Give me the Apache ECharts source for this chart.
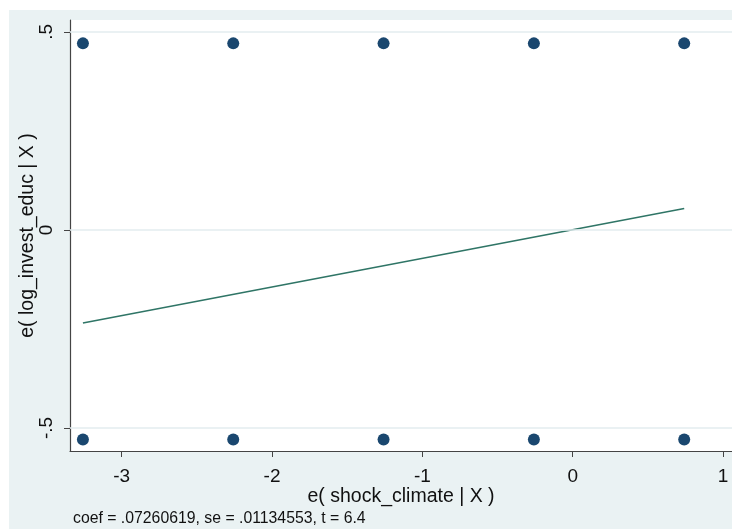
<!DOCTYPE html>
<html><head><meta charset="utf-8">
<script src="https://cdn.jsdelivr.net/npm/echarts@6/dist/echarts.min.js"></script>
<style>html,body{margin:0;padding:0;background:#fff}#c{width:732px;height:529px}</style>
</head><body><div id="c"></div>
<script>
// Data
var pointX = [-3.258, -2.258, -1.258, -0.258, 0.742];
var upperY = [0.471, 0.471, 0.471, 0.471, 0.471];
var lowerY = [-0.529, -0.529, -0.529, -0.529, -0.529];
var fitX = [-3.258, 0.742];
var fitY = [-0.235, 0.054];
var xTicks = [-3, -2, -1, 0, 1];
var xTickLabels = ['-3', '-2', '-1', '0', '1'];
var yTicks = [-0.5, 0, 0.5];
var yTickLabels = ['-.5', '0', '.5'];
var xTitle = 'e( shock_climate | X )';
var yTitle = 'e( log_invest_educ | X )';
var note = 'coef = .07260619, se = .01134553, t = 6.4';

var pts = [];
for (var i = 0; i < pointX.length; i++) { pts.push([pointX[i], upperY[i]]); pts.push([pointX[i], lowerY[i]]); }
var fit = fitX.map(function (x, i) { return [x, fitY[i]]; });

var FONT = 'Liberation Sans, Arial, sans-serif';
var chart = echarts.init(document.getElementById('c'), null, {renderer: 'canvas'});
chart.setOption({
  animation: false,
  backgroundColor: '#ffffff',
  graphic: [
    {type: 'rect', z: -10, shape: {x: 9, y: 10, width: 723, height: 519}, style: {fill: '#eaf2f3'}},
    {type: 'text', left: 73, top: 511, style: {text: note, font: '15.8px ' + FONT, fill: '#111'}}
  ],
  grid: {left: 70, top: 20, right: 0, bottom: 78, show: true, backgroundColor: '#ffffff', borderWidth: 0},
  xAxis: {
    type: 'value', min: -3.344, max: 1.06,
    name: xTitle, nameLocation: 'middle', nameGap: 36, nameMoveOverlap: false,
    nameTextStyle: {fontFamily: FONT, fontSize: 19.5, color: '#111'},
    axisLine: {show: true, onZero: false, lineStyle: {color: '#444', width: 1.2}},
    axisTick: {show: true, length: 6, customValues: xTicks, lineStyle: {color: '#444'}},
    axisLabel: {customValues: xTicks, margin: 16, fontFamily: FONT, fontSize: 19, color: '#111',
      formatter: function (v) { var k = xTicks.indexOf(v); return k >= 0 ? xTickLabels[k] : ''; }},
    splitLine: {show: false}
  },
  yAxis: {
    type: 'value', min: -0.558, max: 0.530,
    name: yTitle, nameLocation: 'middle', nameGap: 32, nameRotate: 90, nameMoveOverlap: false,
    nameTextStyle: {fontFamily: FONT, fontSize: 19.5, color: '#111'},
    axisLine: {show: true, onZero: false, lineStyle: {color: '#444', width: 1.2}},
    axisTick: {show: true, length: 6, customValues: yTicks, lineStyle: {color: '#444'}},
    axisLabel: {customValues: yTicks, rotate: 90, margin: 14, fontFamily: FONT, fontSize: 19, color: '#111',
      formatter: function (v) { var k = yTicks.indexOf(v); return k >= 0 ? yTickLabels[k] : ''; }},
    splitLine: {show: false}
  },
  series: [
    {
      type: 'line', data: [], silent: true,
      markLine: {silent: true, symbol: 'none', label: {show: false},
        lineStyle: {color: '#e3edef', width: 1.5, type: 'solid'},
        data: yTicks.map(function (v) { return {yAxis: v}; })}
    },
    {
      type: 'scatter', data: pts, symbol: 'circle', symbolSize: 12,
      itemStyle: {color: '#1a476f', opacity: 1}, z: 5
    },
    {
      type: 'line', data: fit, symbol: 'none', lineStyle: {color: '#2f7566', width: 1.6}, z: 4
    }
  ]
});
</script></body></html>
